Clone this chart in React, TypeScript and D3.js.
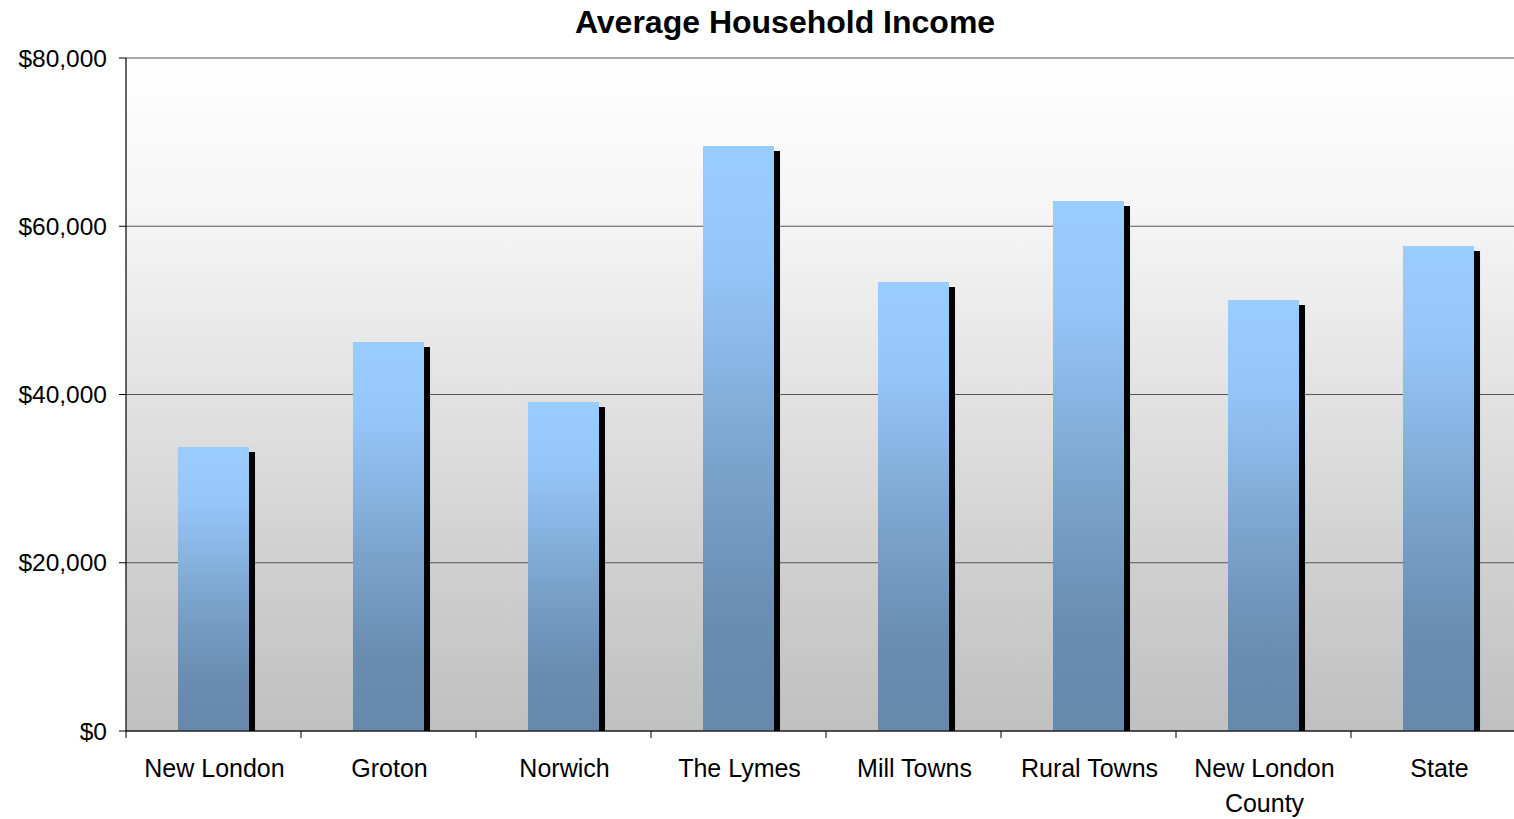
import React from "react";
import * as d3 from "d3";

const title = "Average Household Income";
const categories = [
  ["New London"],
  ["Groton"],
  ["Norwich"],
  ["The Lymes"],
  ["Mill Towns"],
  ["Rural Towns"],
  ["New London", "County"],
  ["State"],
];
const values = [33760, 46240, 39110, 69540, 53370, 63000, 51230, 57650];
const yTicks = [0, 20000, 40000, 60000, 80000];

const W = 1514;
const H = 819;
const left = 126;
const right = 1526;
const top = 58;
const bottom = 731;

export default function App() {
  const keys = categories.map((c) => c.join(" "));
  const x = d3
    .scaleBand<string>()
    .domain(keys)
    .range([left, right])
    .paddingInner(0.594)
    .paddingOuter(0.297);
  const y = d3.scaleLinear().domain([0, 80000]).range([bottom, top]);
  const step = x.step();
  const fmt = (v: number) => "$" + d3.format(",")(v);
  const font = "'Liberation Sans', Arial, sans-serif";

  return (
    <svg
      width={W}
      height={H}
      style={{ position: "absolute", left: 0, top: 0, background: "#fff" }}
      fontFamily={font}
    >
      <defs>
        <linearGradient id="bg" x1="0" y1="0" x2="0" y2="1">
          <stop offset="0" stopColor="#ffffff" />
          <stop offset="0.25" stopColor="#f4f4f4" />
          <stop offset="0.5" stopColor="#e2e2e2" />
          <stop offset="0.75" stopColor="#d0d0d0" />
          <stop offset="1" stopColor="#c0c0c0" />
        </linearGradient>
        <linearGradient id="bar" x1="0" y1="0" x2="0" y2="1">
          <stop offset="0" stopColor="#99ccff" />
          <stop offset="0.2" stopColor="#95c6f8" />
          <stop offset="0.55" stopColor="#7aa3cc" />
          <stop offset="0.8" stopColor="#6a8db2" />
          <stop offset="1" stopColor="#6688ab" />
        </linearGradient>
      </defs>
      <rect x={left} y={top} width={right - left} height={bottom - top} fill="url(#bg)" />
      {yTicks.map((t) => (
        <line key={t} x1={left} x2={right} y1={y(t)} y2={y(t)} stroke="#555" strokeWidth={1} />
      ))}
      {values.map((v, i) => {
        const bx = x(keys[i])!;
        const bw = x.bandwidth();
        return (
          <g key={i}>
            <rect x={bx + 6} y={y(v) + 5} width={bw} height={bottom - y(v) - 5} fill="#000" />
            <rect x={bx} y={y(v)} width={bw} height={bottom - y(v)} fill="url(#bar)" />
          </g>
        );
      })}
      <line x1={left} x2={left} y1={top} y2={bottom} stroke="#000" strokeWidth={1.2} />
      <line x1={left} x2={right} y1={bottom} y2={bottom} stroke="#000" strokeWidth={1.2} />
      {yTicks.map((t) => (
        <g key={"yt" + t}>
          <line x1={left - 7} x2={left} y1={y(t)} y2={y(t)} stroke="#000" />
          <text
            x={107}
            y={y(t)}
            dy="0.35em"
            textAnchor="end"
            fontSize={24.5}
            fill="#000"
          >
            {fmt(t)}
          </text>
        </g>
      ))}
      {d3.range(keys.length + 1).map((i) => (
        <line
          key={"xt" + i}
          x1={left + i * step}
          x2={left + i * step}
          y1={bottom}
          y2={bottom + 7}
          stroke="#000"
        />
      ))}
      {categories.map((lines, i) => (
        <text
          key={"xl" + i}
          x={x(keys[i])! + x.bandwidth() / 2 + 1}
          y={777}
          textAnchor="middle"
          fontSize={25}
          fill="#000"
        >
          {lines.map((l, j) => (
            <tspan key={j} x={x(keys[i])! + x.bandwidth() / 2 + 1} dy={j === 0 ? 0 : 35}>
              {l}
            </tspan>
          ))}
        </text>
      ))}
      <text x={785} y={33} textAnchor="middle" fontSize={32} fontWeight="bold" fill="#000">
        {title}
      </text>
    </svg>
  );
}
